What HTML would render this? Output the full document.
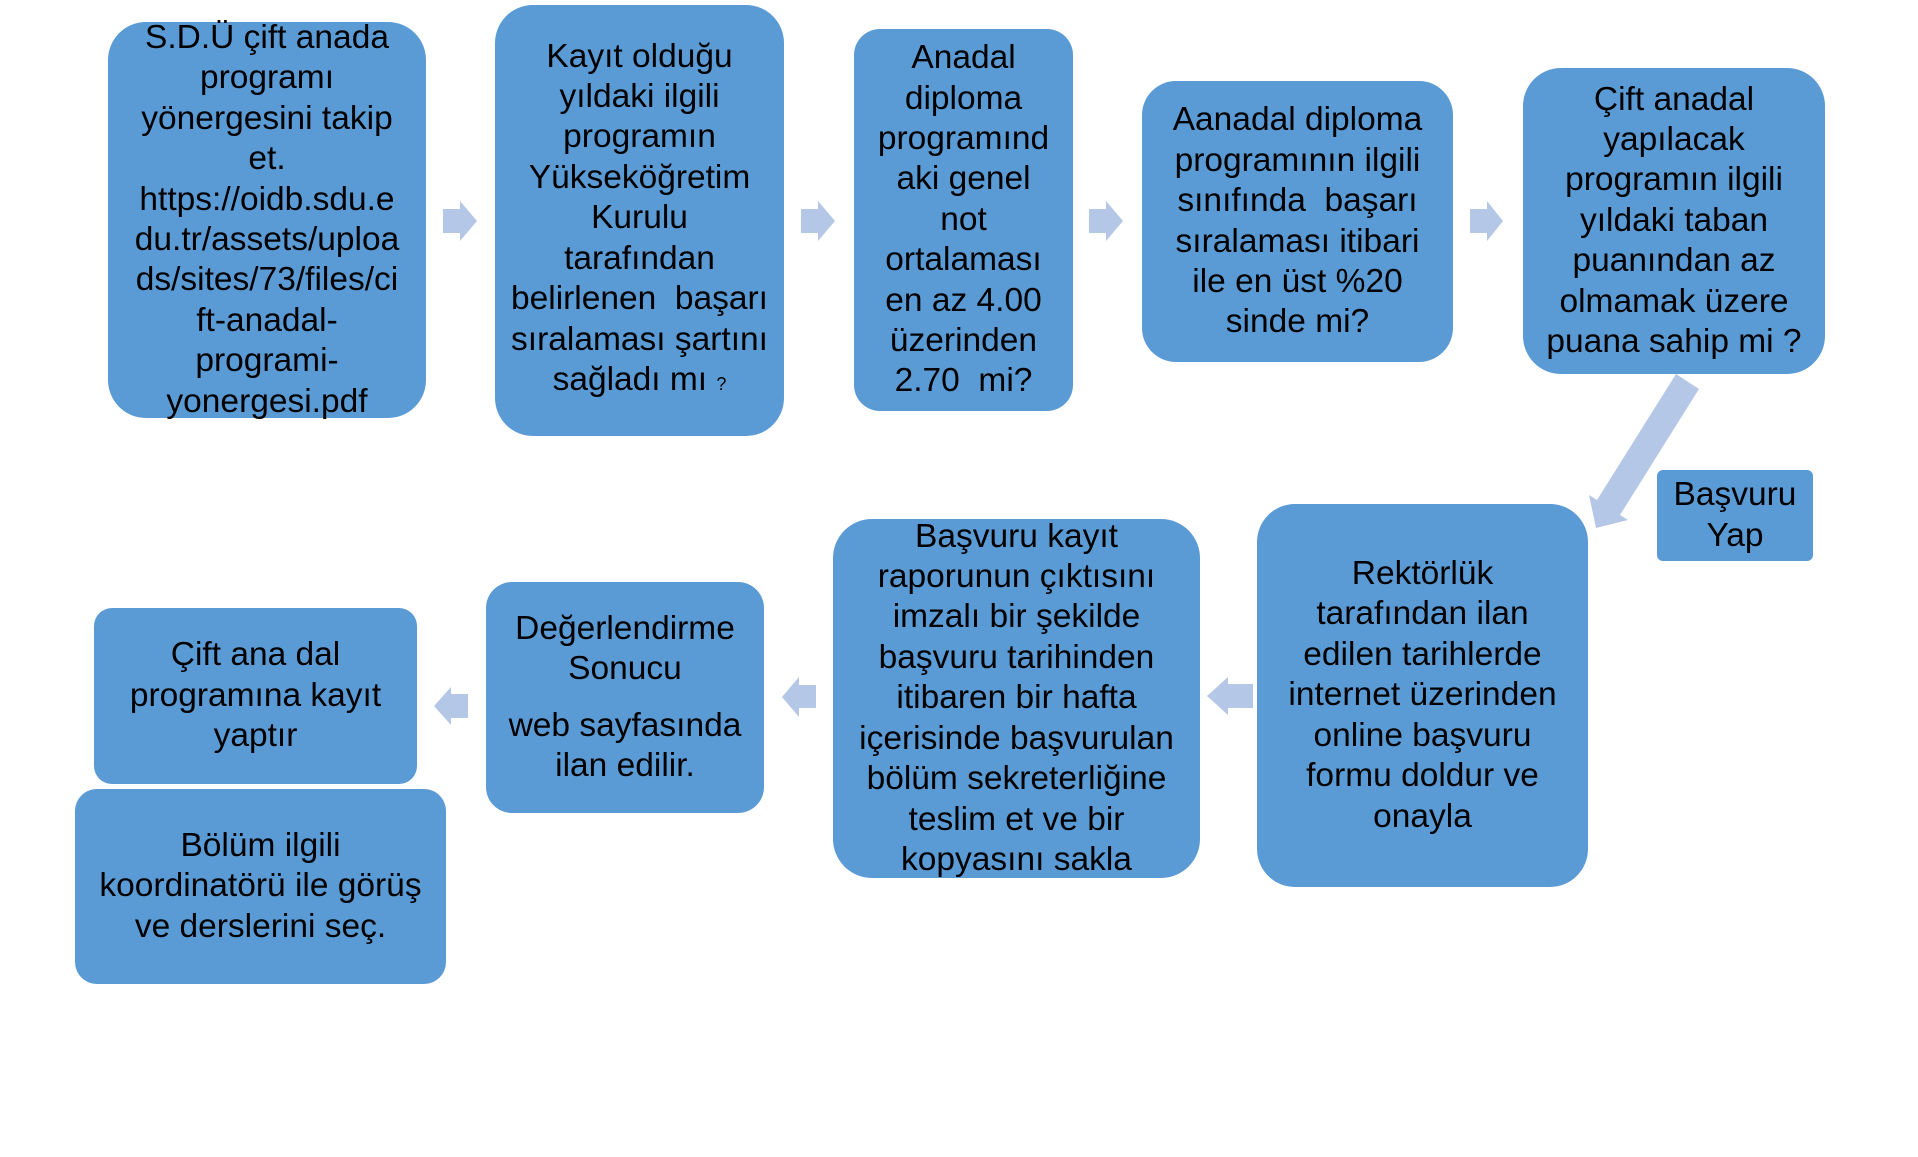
<!DOCTYPE html>
<html>
<head>
<meta charset="utf-8">
<style>
html,body{margin:0;padding:0;background:#fff;}
body{width:1918px;height:1157px;position:relative;overflow:hidden;font-family:"Liberation Sans",sans-serif;}
.b{position:absolute;background:#5B9BD5;display:flex;align-items:center;justify-content:center;text-align:center;color:#000;font-size:33.5px;line-height:40.4px;white-space:nowrap;overflow:visible;}
.b div{white-space:nowrap;}
svg{position:absolute;left:0;top:0;}
</style>
</head>
<body>
<svg width="1918" height="1157" viewBox="0 0 1918 1157">
  <g fill="#B4C7E7">
    <!-- top right-pointing arrows -->
    <polygon points="443,209 460,209 460,201 477,221 460,241 460,233 443,233"/>
    <polygon points="801,209 818,209 818,201 835,221 818,241 818,233 801,233"/>
    <polygon points="1089,209 1106,209 1106,201 1123,221 1106,241 1106,233 1089,233"/>
    <polygon points="1470,209 1487,209 1487,201 1503,221 1487,241 1487,233 1470,233"/>
    <!-- bottom left-pointing arrows -->
    <polygon points="1253,684 1228,684 1228,677 1207,696 1228,715 1228,708 1253,708"/>
    <polygon points="816,685 799,685 799,677 782,697 799,717 799,708 816,708"/>
    <polygon points="468,694 451,694 451,687 434,706 451,725 451,718 468,718"/>
    <!-- diagonal arrow -->
    <polygon points="1676,374 1699,389 1620,515 1628,520 1596,528 1589,495 1597,500"/>
  </g>
</svg>

<div class="b" style="left:108px;top:22px;width:318px;height:396px;border-radius:38px;">
<div>S.D.Ü çift anada<br>programı<br>yönergesini takip<br>et.<br>https://oidb.sdu.e<br>du.tr/assets/uploa<br>ds/sites/73/files/ci<br>ft-anadal-<br>programi-<br>yonergesi.pdf</div>
</div>

<div class="b" style="left:495px;top:5px;width:289px;height:431px;border-radius:38px;">
<div>Kayıt olduğu<br>yıldaki ilgili<br>programın<br>Yükseköğretim<br>Kurulu<br>tarafından<br>belirlenen&nbsp; başarı<br>sıralaması şartını<br>sağladı mı <span style="font-size:18px;">?</span></div>
</div>

<div class="b" style="left:854px;top:29px;width:219px;height:382px;border-radius:26px;">
<div>Anadal<br>diploma<br>programınd<br>aki genel<br>not<br>ortalaması<br>en az 4.00<br>üzerinden<br>2.70&nbsp; mi?</div>
</div>

<div class="b" style="left:1142px;top:81px;width:311px;height:281px;border-radius:34px;">
<div>Aanadal diploma<br>programının ilgili<br>sınıfında&nbsp; başarı<br>sıralaması itibari<br>ile en üst %20<br>sinde mi?</div>
</div>

<div class="b" style="left:1523px;top:68px;width:302px;height:306px;border-radius:38px;">
<div>Çift anadal<br>yapılacak<br>programın ilgili<br>yıldaki taban<br>puanından az<br>olmamak üzere<br>puana sahip mi ?</div>
</div>

<div class="b" style="left:1657px;top:470px;width:156px;height:91px;border-radius:6px;">
<div>Başvuru<br>Yap</div>
</div>

<div class="b" style="left:1257px;top:504px;width:331px;height:383px;border-radius:38px;">
<div>Rektörlük<br>tarafından ilan<br>edilen tarihlerde<br>internet üzerinden<br>online başvuru<br>formu doldur ve<br>onayla</div>
</div>

<div class="b" style="left:833px;top:519px;width:367px;height:359px;border-radius:39px;">
<div>Başvuru kayıt<br>raporunun çıktısını<br>imzalı bir şekilde<br>başvuru tarihinden<br>itibaren bir hafta<br>içerisinde başvurulan<br>bölüm sekreterliğine<br>teslim et ve bir<br>kopyasını sakla</div>
</div>

<div class="b" style="left:486px;top:582px;width:278px;height:231px;border-radius:26px;">
<div>Değerlendirme<br>Sonucu<div style="height:16px;"></div>web sayfasında<br>ilan edilir.</div>
</div>

<div class="b" style="left:94px;top:608px;width:323px;height:176px;border-radius:18px;">
<div>Çift ana dal<br>programına kayıt<br>yaptır</div>
</div>

<div class="b" style="left:75px;top:789px;width:371px;height:195px;border-radius:22px;">
<div>Bölüm ilgili<br>koordinatörü ile görüş<br>ve derslerini seç.</div>
</div>

</body>
</html>
